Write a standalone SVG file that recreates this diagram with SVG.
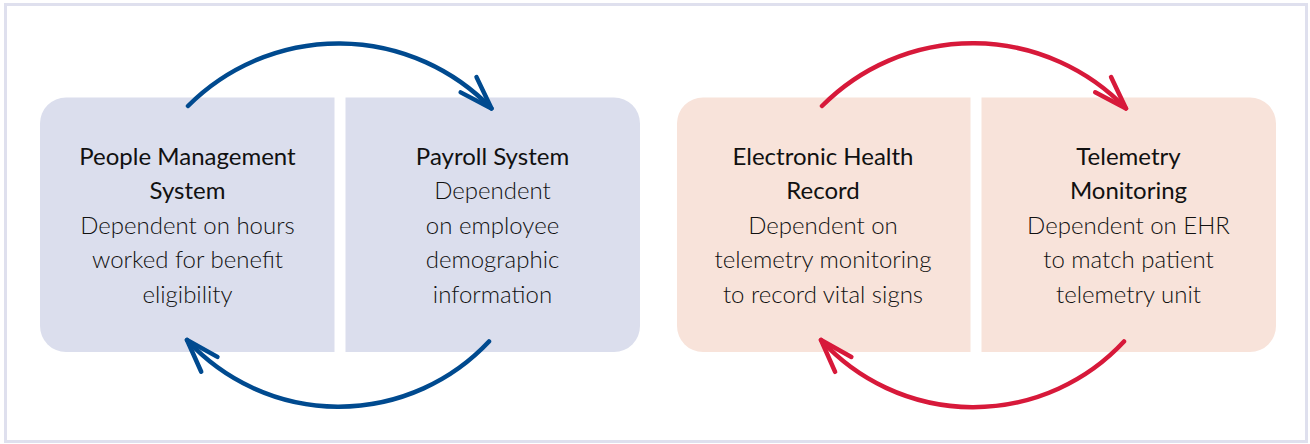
<svg xmlns="http://www.w3.org/2000/svg" width="1310" height="444" viewBox="0 0 1310 444">
<style>
.frame{fill:#ffffff;stroke:#dfe0ee;stroke-width:3}
.blue{fill:#dbdeed}
.pink{fill:#f8e3da}
.t{font-family:Lato,"Open Sans",sans-serif;font-size:24px;fill:#111111;text-anchor:middle}
.h{font-weight:400}
.b{font-weight:300}
.ab{fill:none;stroke:#004a8f;stroke-width:4.5;stroke-linecap:round;stroke-linejoin:round}
.ar{fill:none;stroke:#d7193a;stroke-width:4.5;stroke-linecap:round;stroke-linejoin:round}
</style>
<defs>
<marker id="mb" markerUnits="userSpaceOnUse" markerWidth="80" markerHeight="80" refX="0" refY="0" orient="auto" overflow="visible">
<path d="M-33,-11 L0,0 L-33,11" fill="none" stroke="#004a8f" stroke-width="4.5" stroke-linecap="round" stroke-linejoin="round"/>
</marker>
<marker id="mr" markerUnits="userSpaceOnUse" markerWidth="80" markerHeight="80" refX="0" refY="0" orient="auto" overflow="visible">
<path d="M-33,-11 L0,0 L-33,11" fill="none" stroke="#d7193a" stroke-width="4.5" stroke-linecap="round" stroke-linejoin="round"/>
</marker>
</defs>
<rect class="frame" x="5.5" y="4.5" width="1301" height="437"/>

<g id="people-management">
<path class="blue" d="M334.5,97.5 V352 H66 A26,26 0 0 1 40,326 V123.5 A26,26 0 0 1 66,97.5 Z"/>
<text class="t h" x="187.5" y="165">People Management</text>
<text class="t h" x="187.5" y="199">System</text>
<text class="t b" x="187.5" y="234">Dependent on hours</text>
<text class="t b" x="187.5" y="268">worked for benefit</text>
<text class="t b" x="187.5" y="303">eligibility</text>
</g>
<g id="payroll">
<path class="blue" d="M345.5,97.5 H614 A26,26 0 0 1 640,123.5 V326 A26,26 0 0 1 614,352 H345.5 Z"/>
<text class="t h" x="492.5" y="165">Payroll System</text>
<text class="t b" x="492.5" y="199">Dependent</text>
<text class="t b" x="492.5" y="234">on employee</text>
<text class="t b" x="492.5" y="268">demographic</text>
<text class="t b" x="492.5" y="303">information</text>
</g>
<g id="ehr">
<path class="pink" d="M970.5,97.5 V352 H703 A26,26 0 0 1 677,326 V123.5 A26,26 0 0 1 703,97.5 Z"/>
<text class="t h" x="823" y="165">Electronic Health</text>
<text class="t h" x="823" y="199">Record</text>
<text class="t b" x="823" y="234">Dependent on</text>
<text class="t b" x="823" y="268">telemetry monitoring</text>
<text class="t b" x="823" y="303">to record vital signs</text>
</g>
<g id="telemetry">
<path class="pink" d="M981.5,97.5 H1250 A26,26 0 0 1 1276,123.5 V326 A26,26 0 0 1 1250,352 H981.5 Z"/>
<text class="t h" x="1128.5" y="165">Telemetry</text>
<text class="t h" x="1128.5" y="199">Monitoring</text>
<text class="t b" x="1128.5" y="234">Dependent on EHR</text>
<text class="t b" x="1128.5" y="268">to match patient</text>
<text class="t b" x="1128.5" y="303">telemetry unit</text>
</g>

<g id="connectors">
<path class="ab" d="M188,106 A212.5,212.5 0 0 1 491.5,108.5" marker-end="url(#mb)"/>
<path class="ab" d="M489,341.5 A206,206 0 0 1 187,340" marker-end="url(#mb)"/>
<path class="ar" d="M822,106 A212.5,212.5 0 0 1 1126,108.5" marker-end="url(#mr)"/>
<path class="ar" d="M1124,341.5 A206,206 0 0 1 821,340" marker-end="url(#mr)"/>
</g>
</svg>
